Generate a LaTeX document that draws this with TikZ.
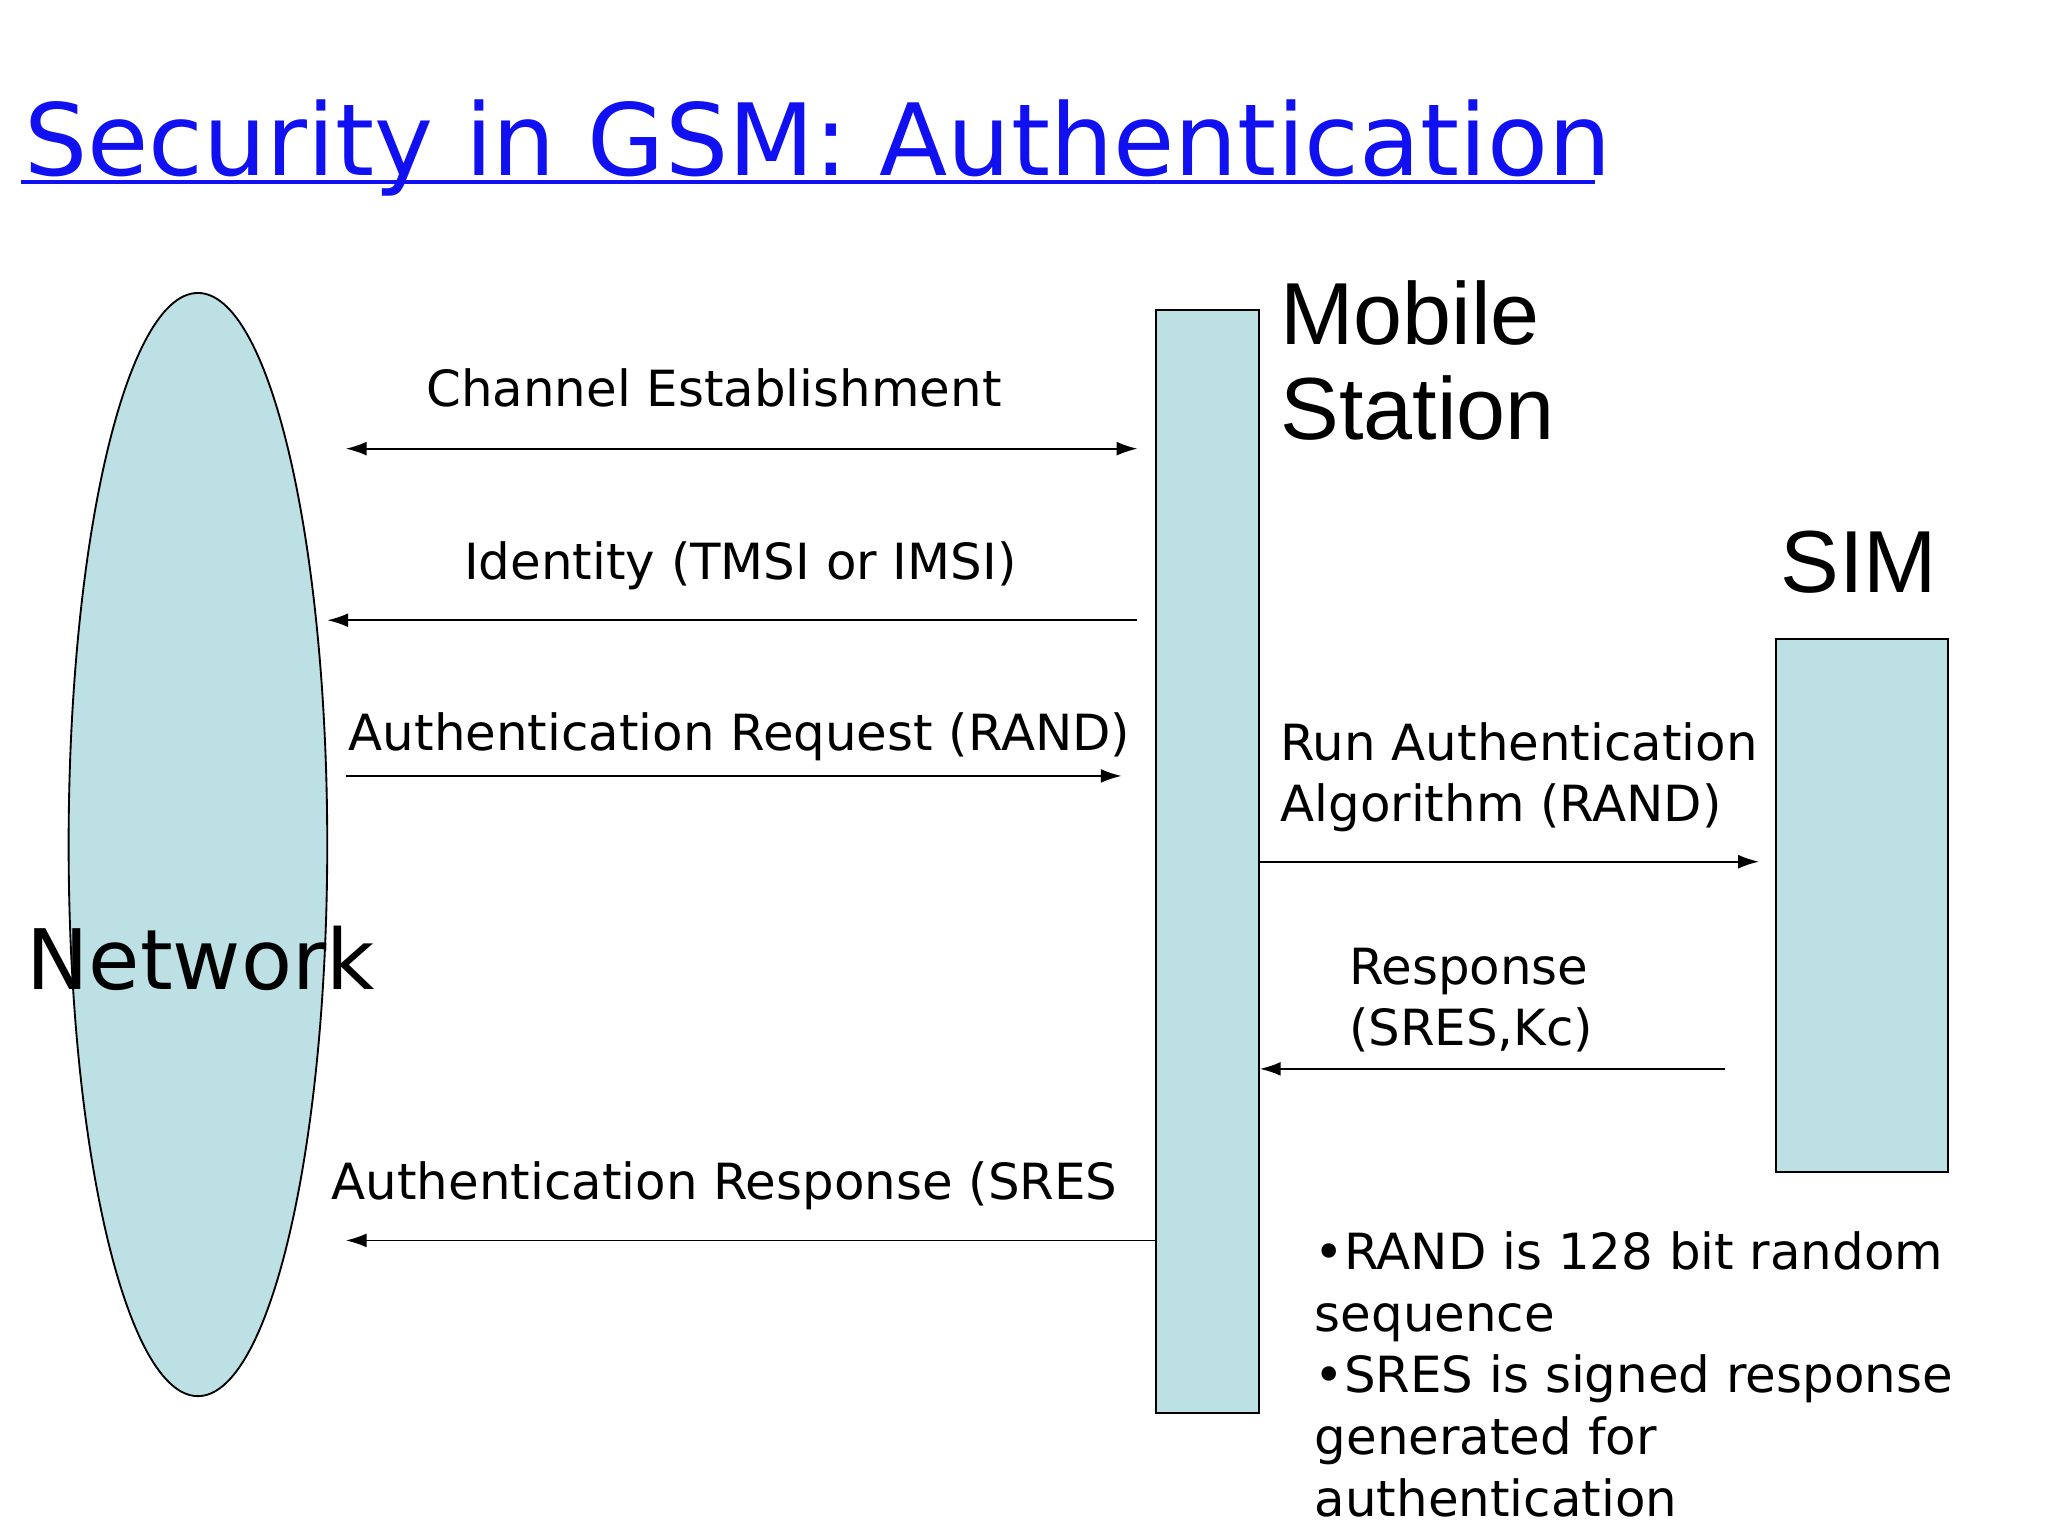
\documentclass[tikz,border=0pt]{standalone}
\usepackage{fontspec}
\setmainfont{DejaVu Sans}
\newfontfamily\arialf{Liberation Sans}
\usetikzlibrary{arrows.meta,shapes.geometric}
\definecolor{lb}{HTML}{BDE0E4}
\definecolor{tb}{HTML}{1010F0}
\begin{document}
\begin{tikzpicture}[x=0.02cm,y=-0.02cm,
 box/.style={draw=black,fill=lb,line width=0.8pt},
 msg/.style={-{Latex[length=9pt,width=6pt]},line width=0.8pt},
 lbl/.style={font=\fontsize{21.5}{26.5}\selectfont,inner sep=0pt}]
\useasboundingbox (0,0) rectangle (1552,1164);
\node[anchor=base west,inner sep=0pt,text=tb,font=\fontsize{43}{48}\selectfont] (title) at (18,133) {Security in GSM: Authentication};
\draw[tb,line width=2pt] (16,138) -- (1209,138);
\node[box,ellipse,minimum width=196*0.02cm,minimum height=836*0.02cm,inner sep=0pt] (net) at (150,640) {};
\node[font=\fontsize{36}{40}\selectfont,anchor=base,inner sep=0pt] (nt) at (152,750) {Network};
\node[box,minimum width=78*0.02cm,minimum height=836*0.02cm,inner sep=0pt] (ms) at (915,653) {};
\node[box,minimum width=130*0.02cm,minimum height=404*0.02cm,inner sep=0pt] (sim) at (1411,686) {};
\node[anchor=north west,inner sep=0pt,font=\arialf\fontsize{38}{41}\selectfont,align=left] (mst) at (970,212) {Mobile\\Station};
\node[anchor=base west,inner sep=0pt,font=\arialf\fontsize{38}{44}\selectfont] (simt) at (1349,449) {SIM};
\coordinate (a1) at (262,340); \coordinate (b1) at (862,340);
\draw[{Latex[length=9pt,width=6pt]}-{Latex[length=9pt,width=6pt]},line width=0.8pt] (a1) -- (b1);
\node[lbl,anchor=base] (l1) at (541,308) {Channel Establishment};
\coordinate (a2) at (862,470); \coordinate (b2) at (248,470);
\draw[msg] (a2) -- (b2);
\node[lbl,anchor=base] (l2) at (561,439) {Identity (TMSI or IMSI)};
\coordinate (a3) at (262,588); \coordinate (b3) at (850,588);
\draw[msg] (a3) -- (b3);
\node[lbl,anchor=base west] (l3) at (264,569) {Authentication Request (RAND)};
\coordinate (b4) at (1333,653);
\draw[msg] (ms.east |- b4) -- (b4);
\node[lbl,anchor=north west,align=left] (l4) at (970,547) {Run Authentication\\Algorithm (RAND)};
\coordinate (a5) at (1307,810);
\draw[msg] (a5) -- (ms.east |- a5);
\node[lbl,anchor=north west,align=left] (l5) at (1022,718) {Response\\(SRES,Kc)};
\coordinate (b6) at (262,940);
\draw[msg] (ms.west |- b6) -- (b6);
\node[lbl,anchor=base west] (l6) at (251,909) {Authentication Response (SRES};
\node[lbl,anchor=north west,align=left,font=\fontsize{21.5}{26.6}\selectfont] (notes) at (996,933)
 {•RAND is 128 bit random\\sequence\\•SRES is signed response\\generated for\\authentication};
\end{tikzpicture}
\end{document}
